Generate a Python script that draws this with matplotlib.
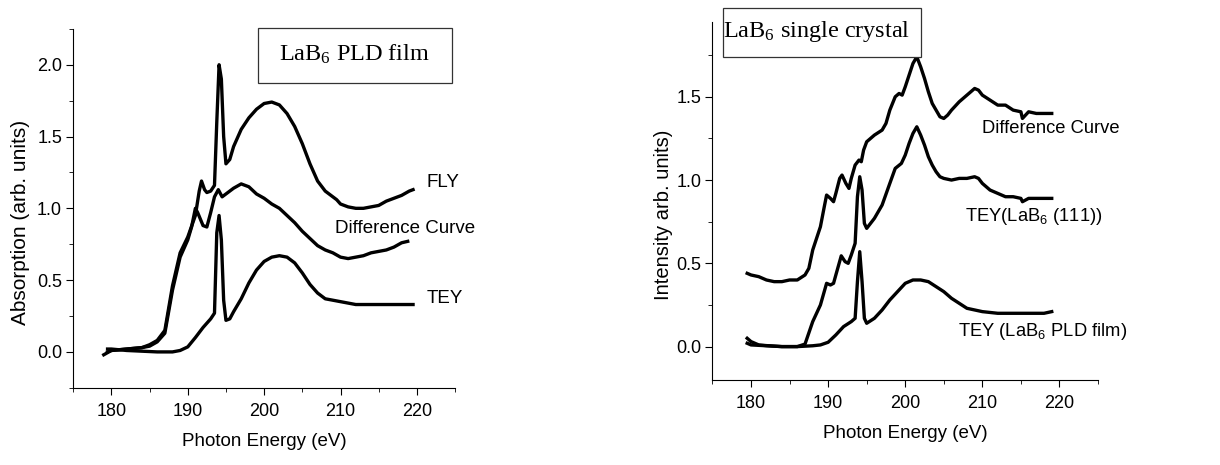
import matplotlib
matplotlib.use("Agg")
import matplotlib.pyplot as plt
from matplotlib.ticker import MultipleLocator, AutoMinorLocator, FormatStrFormatter
from matplotlib.patches import Rectangle

plt.rcParams['font.family'] = ['Liberation Sans', 'DejaVu Sans']
plt.rcParams['mathtext.default'] = 'regular'

# ---- left panel: LaB6 PLD film ----
fly_e = [179.0, 180, 182, 184, 185, 186, 187, 188, 189, 190, 191, 191.5, 191.8, 192.2, 192.5, 193,
         193.5, 193.8, 194.1, 194.4, 194.7, 195, 195.5, 196, 197, 198, 199, 200, 201, 202, 203,
         204, 205, 206, 207, 208, 209, 209.5, 210, 211, 212, 213, 214, 215, 216, 217, 218, 219, 219.5]
fly_y = [-0.02, 0.01, 0.02, 0.03, 0.05, 0.08, 0.15, 0.46, 0.69, 0.80, 0.95, 1.12, 1.19, 1.13, 1.11, 1.12,
         1.16, 1.60, 2.00, 1.90, 1.50, 1.31, 1.34, 1.43, 1.55, 1.63, 1.69, 1.73, 1.74, 1.72, 1.66,
         1.57, 1.45, 1.31, 1.19, 1.12, 1.08, 1.06, 1.03, 1.01, 1.00, 1.00, 1.01, 1.02, 1.05, 1.07, 1.09, 1.12, 1.13]

diffL_e = [179.5, 180, 182, 184, 185, 186, 187, 188, 189, 190, 190.5, 191, 191.3, 192, 192.5, 193,
           193.5, 194, 194.5, 195, 196, 197, 198, 199, 200, 201, 202, 203, 204, 205, 206, 207,
           208, 209, 210, 211, 212, 213, 214, 215, 216, 217, 218, 218.8]
diffL_y = [0.0, 0.01, 0.02, 0.03, 0.04, 0.07, 0.13, 0.43, 0.66, 0.78, 0.87, 1.00, 0.97, 0.88, 0.87, 0.97,
           1.08, 1.13, 1.08, 1.10, 1.14, 1.17, 1.15, 1.10, 1.07, 1.03, 1.00, 0.95, 0.90, 0.84, 0.79, 0.74,
           0.71, 0.69, 0.66, 0.65, 0.66, 0.67, 0.69, 0.70, 0.71, 0.73, 0.76, 0.77]

teyL_e = [179.5, 180, 182, 184, 186, 188, 189, 190, 191, 192, 193, 193.5, 193.8, 194.1, 194.4, 194.7,
          195, 195.5, 196, 197, 198, 199, 200, 201, 202, 203, 204, 205, 206, 207, 208, 209, 210,
          212, 214, 216, 218, 219.5]
teyL_y = [0.02, 0.02, 0.01, 0.005, 0.0, 0.0, 0.01, 0.035, 0.10, 0.17, 0.23, 0.27, 0.83, 0.95, 0.78, 0.36,
          0.22, 0.23, 0.28, 0.37, 0.48, 0.57, 0.63, 0.66, 0.67, 0.66, 0.62, 0.55, 0.47, 0.41, 0.37, 0.36, 0.35,
          0.33, 0.33, 0.33, 0.33, 0.33]

# ---- right panel: LaB6 single crystal ----
diffR_e = [179.5, 180, 181, 182, 183, 184, 185, 186, 187, 187.5, 188, 189, 189.5, 189.8, 190.3, 190.7,
           191, 191.5, 191.8, 192.3, 192.7, 193, 193.5, 194, 194.3, 194.6, 195, 196, 197, 197.5, 198,
           198.7, 199.2, 199.6, 200, 200.5, 201, 201.5, 202, 202.5, 203, 203.5, 204, 204.5, 205, 205.5,
           206, 207, 208, 209, 209.5, 210, 211, 212, 213, 214, 215, 215.2, 216, 217, 218, 219]
diffR_y = [0.44, 0.43, 0.42, 0.40, 0.39, 0.39, 0.40, 0.40, 0.43, 0.47, 0.58, 0.72, 0.84, 0.91, 0.89, 0.87,
           0.92, 1.01, 1.03, 0.98, 0.95, 1.01, 1.09, 1.12, 1.11, 1.18, 1.23, 1.27, 1.30, 1.34, 1.42,
           1.50, 1.52, 1.51, 1.56, 1.63, 1.70, 1.74, 1.68, 1.61, 1.53, 1.46, 1.42, 1.38, 1.37, 1.39,
           1.42, 1.47, 1.51, 1.55, 1.54, 1.51, 1.48, 1.45, 1.45, 1.42, 1.41, 1.37, 1.41, 1.40, 1.40, 1.40]

tey111_e = [179.5, 180, 181, 182, 184, 186, 187, 188, 189, 189.8, 190.3, 190.7, 191, 191.7, 192.2, 192.6,
            193, 193.5, 193.8, 194.1, 194.4, 194.7, 195, 196, 197, 198, 198.7, 199.5, 200, 200.5, 201,
            201.5, 202, 202.5, 203, 203.5, 204, 204.5, 205, 206, 207, 208, 209, 209.5, 210, 211, 212,
            213, 214, 215, 215.2, 216, 217, 218, 219]
tey111_y = [0.05, 0.03, 0.01, 0.006, 0.0, 0.0, 0.015, 0.15, 0.25, 0.38, 0.37, 0.38, 0.43, 0.545, 0.51, 0.50,
            0.55, 0.62, 0.90, 1.02, 0.94, 0.74, 0.71, 0.77, 0.85, 0.98, 1.07, 1.10, 1.15, 1.22, 1.28,
            1.32, 1.27, 1.21, 1.14, 1.09, 1.05, 1.02, 1.01, 1.00, 1.01, 1.01, 1.02, 1.01, 0.98, 0.94, 0.92,
            0.90, 0.90, 0.89, 0.87, 0.89, 0.89, 0.89, 0.89]

teyR_e = [179.5, 180, 182, 184, 186, 188, 189, 190, 191, 192, 193, 193.5, 193.8, 194.1, 194.4, 194.7,
          195, 196, 197, 198, 199, 200, 201, 202, 203, 204, 205, 206, 207, 208, 209, 210, 212, 214,
          216, 218, 219]
teyR_y = [0.02, 0.01, 0.005, 0.0, 0.0, 0.005, 0.01, 0.026, 0.07, 0.12, 0.15, 0.17, 0.39, 0.57, 0.39, 0.17,
          0.14, 0.17, 0.22, 0.28, 0.33, 0.38, 0.40, 0.40, 0.39, 0.36, 0.33, 0.29, 0.26, 0.23, 0.22, 0.21, 0.20, 0.20,
          0.20, 0.20, 0.21]

fig = plt.figure(figsize=(12.2, 4.65), dpi=100)
axL = fig.add_axes([0.060, 0.166, 0.313, 0.772])
axR = fig.add_axes([0.584, 0.183, 0.316, 0.770])

lw = 2.4
axL.plot(fly_e, fly_y, color='black', lw=lw)
axL.plot(diffL_e, diffL_y, color='black', lw=lw)
axL.plot(teyL_e, teyL_y, color='black', lw=lw)

axR.plot(diffR_e, diffR_y, color='black', lw=lw)
axR.plot(tey111_e, tey111_y, color='black', lw=lw)
axR.plot(teyR_e, teyR_y, color='black', lw=lw)

for ax in (axL, axR):
    ax.set_xlim(175, 225)
    ax.spines['top'].set_visible(False)
    ax.spines['right'].set_visible(False)
    ax.xaxis.set_major_locator(MultipleLocator(10))
    ax.xaxis.set_minor_locator(AutoMinorLocator(2))
    ax.yaxis.set_major_locator(MultipleLocator(0.5))
    ax.yaxis.set_minor_locator(AutoMinorLocator(2))
    ax.tick_params(which='both', direction='out', labelsize=13)
    ax.tick_params(axis='x', pad=6)
    ax.tick_params(axis='y', pad=3)
    ax.tick_params(which='major', length=5)
    ax.tick_params(which='minor', length=3)
    ax.set_xlabel('Photon Energy (eV)', fontsize=13.5, labelpad=9)
    ax.yaxis.set_major_formatter(FormatStrFormatter('%.1f'))

axL.set_ylim(-0.25, 2.25)
axR.set_ylim(-0.2, 1.95)
axL.set_ylabel('Absorption (arb. units)', fontsize=15)
axR.set_ylabel('Intensity arb. units)', fontsize=14.5)
axL.yaxis.set_label_coords(-0.112, 0.46)
axR.yaxis.set_label_coords(-0.103, 0.46)

# title boxes
axL.add_patch(Rectangle((0.484, 0.850), 0.508, 0.153, transform=axL.transAxes, facecolor='white',
                        edgecolor='#333333', linewidth=0.9, clip_on=False, zorder=3))
axL.text(0.736, 0.928, r'LaB$_{\mathregular{6}}$ PLD film', transform=axL.transAxes, ha='center', va='center',
         family='Liberation Serif', fontsize=17.5, zorder=4)
axR.add_patch(Rectangle((0.026, 0.902), 0.514, 0.137, transform=axR.transAxes, facecolor='white',
                        edgecolor='#333333', linewidth=0.9, clip_on=False, zorder=3))
axR.text(0.27, 0.972, r'LaB$_{\mathregular{6}}$ single crystal', transform=axR.transAxes, ha='center',
         va='center', family='Liberation Serif', fontsize=17.5, zorder=4)

axL.text(221.3, 1.18, 'FLY', fontsize=13.5, va='center')
axL.text(209.3, 0.857, 'Difference Curve', fontsize=13.5, va='center')
axL.text(221.3, 0.37, 'TEY', fontsize=13.5, va='center')

axR.text(210.0, 1.31, 'Difference Curve', fontsize=13.2, va='center')
axR.text(207.8, 0.78, r'TEY(LaB$_{\mathregular{6}}$ (111))', fontsize=13.2, va='center')
axR.text(206.9, 0.09, r'TEY (LaB$_{\mathregular{6}}$ PLD film)', fontsize=13.2, va='center')

fig.savefig('out.png', dpi=100)
